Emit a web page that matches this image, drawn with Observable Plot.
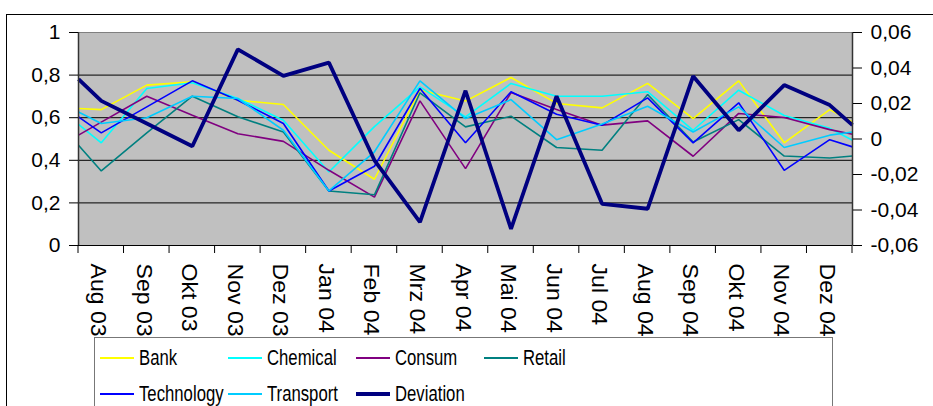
<!DOCTYPE html>
<html>
<head>
<meta charset="utf-8">
<script src="https://cdn.jsdelivr.net/npm/d3@7"></script>
<script src="https://cdn.jsdelivr.net/npm/@observablehq/plot@0.6"></script>
<style>
  html, body { margin: 0; padding: 0; background: #fff; }
  #wrap { position: relative; width: 933px; height: 406px; overflow: hidden; background: #fff; }
  #outer { position: absolute; left: 6px; top: 14px; width: 1000px; height: 600px; border: 1px solid #000; box-sizing: border-box; }
  #chart { position: absolute; left: 0; top: 0; }
  #legend { position: absolute; left: 94px; top: 337px; width: 739px; height: 120px; border: 1px solid #777; background: #fff; box-sizing: border-box; }
  .item { position: absolute; height: 36px; }
  .item .sw { position: absolute; left: 0; width: 34px; }
  .item .lb { position: absolute; left: 39px; top: 0; line-height: 36px; font-family: "Liberation Sans", Arial, sans-serif; font-size: 22px; color: #000; white-space: nowrap; transform: scaleX(0.76); transform-origin: 0 50%; }
</style>
</head>
<body>
<div id="wrap">
  <div id="outer"></div>
  <div id="chart"></div>
  <div id="legend"></div>
</div>
<script>
// Categories
const months = ["Aug 03","Sep 03","Okt 03","Nov 03","Dez 03","Jan 04","Feb 04","Mrz 04","Apr 04","Mai 04","Jun 04","Jul 04","Aug 04","Sep 04","Okt 04","Nov 04","Dez 04"];

// Series values: first and last entries are the values where the line meets the left / right plot edge
const bank       = [0.643, 0.638, 0.753, 0.769, 0.682, 0.662, 0.447, 0.311, 0.730, 0.678, 0.789, 0.667, 0.646, 0.761, 0.596, 0.773, 0.482, 0.638, 0.580];
const chemical   = [0.569, 0.482, 0.737, 0.764, 0.690, 0.588, 0.345, 0.558, 0.745, 0.604, 0.761, 0.701, 0.701, 0.722, 0.541, 0.729, 0.610, 0.550, 0.494];
const consum     = [0.518, 0.579, 0.701, 0.612, 0.525, 0.489, 0.353, 0.227, 0.679, 0.361, 0.718, 0.638, 0.565, 0.585, 0.419, 0.620, 0.601, 0.544, 0.522];
const retail     = [0.471, 0.350, 0.529, 0.701, 0.604, 0.533, 0.256, 0.238, 0.717, 0.557, 0.607, 0.460, 0.447, 0.709, 0.486, 0.591, 0.420, 0.411, 0.420];
const technology = [0.604, 0.529, 0.651, 0.773, 0.682, 0.573, 0.256, 0.372, 0.737, 0.482, 0.722, 0.616, 0.565, 0.693, 0.482, 0.670, 0.353, 0.497, 0.463];
const transport  = [0.627, 0.573, 0.600, 0.701, 0.690, 0.541, 0.256, 0.440, 0.773, 0.596, 0.685, 0.497, 0.570, 0.654, 0.533, 0.651, 0.460, 0.518, 0.533];
const deviation  = [0.0337, 0.0215, 0.0087, -0.0041, 0.0505, 0.0356, 0.0430, -0.0120, -0.0468, 0.0272, -0.0506, 0.0241, -0.0365, -0.0393, 0.0354, 0.0049, 0.0304, 0.0191, 0.0078];

// Tick labels
const leftTicks = [0, 0.2, 0.4, 0.6, 0.8, 1];
const leftLabels = ["0", "0,2", "0,4", "0,6", "0,8", "1"];
const rightTicks = [-0.06, -0.04, -0.02, 0, 0.02, 0.04, 0.06];
const rightLabels = ["-0,06", "-0,04", "-0,02", "0", "0,02", "0,04", "0,06"];

const seriesNames = ["Bank","Chemical","Consum","Retail","Technology","Transport","Deviation"];
const seriesColors = ["#ffff00","#00ffff","#800080","#008080","#0000ff","#00ccff","#000080"];
const seriesValues = [bank, chemical, consum, retail, technology, transport, deviation];

// right axis (deviation) mapped onto the left unit range
const devMin = -0.06, devMax = 0.06;
const toLeft = d => (d - devMin) / (devMax - devMin);
const rightPos = rightTicks.map(toLeft);

const n = months.length;
const xpos = [-0.5, ...d3.range(n), n - 0.5];
const bounds = d3.range(-0.5, n, 1);

const rows = [];
seriesNames.forEach((name, s) => {
  seriesValues[s].forEach((v, i) => {
    rows.push({series: name, x: xpos[i], y: name === "Deviation" ? toLeft(v) : v});
  });
});

const lineMarks = seriesNames.map((name, s) =>
  Plot.line(rows.filter(r => r.series === name), {
    x: "x", y: "y", stroke: seriesColors[s],
    strokeWidth: name === "Deviation" ? 3.8 : 1.6,
    strokeLinejoin: "miter", strokeLinecap: "butt"
  })
);

const chart = Plot.plot({
  width: 933,
  height: 406,
  marginLeft: 78,
  marginRight: 81,
  marginTop: 32,
  marginBottom: 161,
  x: {domain: [-0.5, n - 0.5], axis: null},
  y: {domain: [0, 1], axis: null},
  style: {fontFamily: "'Liberation Sans', Arial, sans-serif", fontSize: "21px", background: "transparent", color: "#000"},
  marks: [
    Plot.frame({fill: "#c0c0c0", stroke: "#808080", strokeWidth: 1}),
    Plot.ruleY([0.2, 0.4, 0.6, 0.8], {stroke: "#000", strokeWidth: 1}),
    ...lineMarks,
    Plot.ruleY([0], {stroke: "#000", strokeWidth: 1.2}),
    Plot.ruleX([-0.5], {stroke: "#333", strokeWidth: 1.5}),
    Plot.ruleX([n - 0.5], {stroke: "#333", strokeWidth: 1.5}),
    Plot.axisY(leftTicks, {anchor: "left", label: null, tickSize: 9, tickPadding: 9, tickFormat: v => leftLabels[leftTicks.indexOf(v)], fontSize: 21, stroke: "#000"}),
    Plot.axisY(rightPos, {anchor: "right", label: null, tickSize: 9, tickPadding: 9, tickFormat: v => rightLabels[rightPos.indexOf(v)], fontSize: 21, stroke: "#000"}),
    Plot.text(months, {x: (d, i) => i, text: d => d, frameAnchor: "bottom", dy: 18, dx: -10, rotate: 90, textAnchor: "start", fontSize: 22, className: "xlab"})
  ]
});
document.getElementById("chart").appendChild(chart);

// stretch x labels slightly along their direction and add tick marks between categories
(function finish() {
  const svg = d3.select(chart);
  svg.selectAll(".xlab text").each(function() {
    const t = this.getAttribute("transform") || "";
    this.setAttribute("transform", t + " scale(1.05,1)");
  });
  const xs = chart.scale("x"), ys = chart.scale("y");
  const y0 = ys.apply(0);
  svg.append("g").selectAll("line").data(bounds).join("line")
    .attr("x1", d => xs.apply(d)).attr("x2", d => xs.apply(d))
    .attr("y1", y0).attr("y2", y0 + 8)
    .attr("stroke", "#000").attr("stroke-width", 1);
})();

// legend
const legend = document.getElementById("legend");
const colX = [5, 133, 261, 389];
const rowY = [2, 38];
seriesNames.forEach((name, s) => {
  const col = s % 4, row = Math.floor(s / 4);
  const it = document.createElement("div");
  it.className = "item";
  it.style.left = colX[col] + "px";
  it.style.top = rowY[row] + "px";
  const sw = document.createElement("div");
  sw.className = "sw";
  const h = name === "Deviation" ? 4 : 2;
  sw.style.height = h + "px";
  sw.style.top = (18 - h / 2) + "px";
  sw.style.background = seriesColors[s];
  const lb = document.createElement("div");
  lb.className = "lb";
  lb.textContent = name;
  it.appendChild(sw); it.appendChild(lb);
  legend.appendChild(it);
});
</script>
</body>
</html>
